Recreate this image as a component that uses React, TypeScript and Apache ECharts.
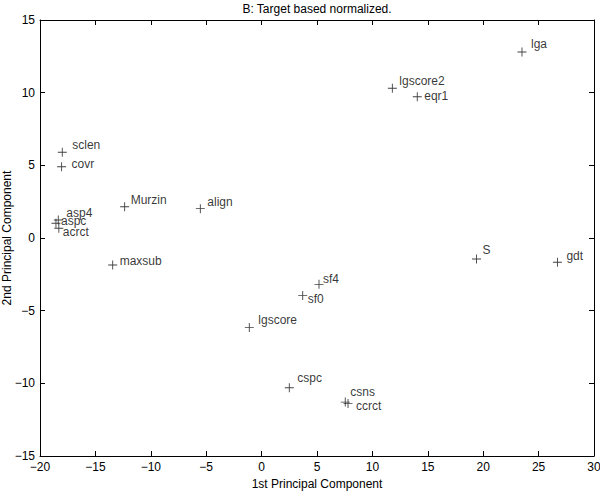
import React, { useEffect, useRef } from "react";
import * as echarts from "echarts";

const names = ["lga", "lgscore2", "eqr1", "sclen", "covr", "Murzin", "align", "asp4", "aspc", "acrct", "maxsub", "S", "gdt", "sf4", "sf0", "lgscore", "cspc", "csns", "ccrct"];
const pc1 = [23.5, 11.8, 14.05, -17.99, -18.05, -12.36, -5.53, -18.35, -18.56, -18.3, -13.44, 19.4, 26.7, 5.18, 3.71, -1.11, 2.5, 7.55, 7.8];
const pc2 = [12.8, 10.3, 9.72, 5.9, 4.9, 2.15, 2.02, 1.24, 1.01, 0.67, -1.86, -1.45, -1.67, -3.19, -3.95, -6.15, -10.3, -11.29, -11.38];

// label anchor offsets (px) relative to the marker centre
const labelDX = [9, 7, 7, 10, 10, 6, 7, 8, 5, 4, 7, 6, 9, 4, 5, 9, 8, 5, 8];
const labelDY = [-8, -7, -1, -7, -3, -7, -7, -7, -2, 4, -4, -9, -6, -5, 4, -7, -10, -10, 3];

const xTicksMin = -20, xTicksMax = 30, yTicksMin = -15, yTicksMax = 15;

const FONT = "Liberation Sans, Arial, Helvetica, sans-serif";
const PLUS = "path://M4.5,0h1v4.5h4.5v1h-4.5v4.5h-1v-4.5h-4.5v-1h4.5z";
const SYM = 9;
const FS = 12;

const fmt = (v: number) => String(v).replace("-", "\u2212");

export default function App() {
  const ref = useRef<HTMLDivElement>(null);
  useEffect(() => {
    if (!ref.current) return;
    const chart = echarts.init(ref.current, null, { renderer: "svg" });
    const axisCommon = {
      axisLine: { show: true, onZero: false, lineStyle: { color: "#000", width: 1 } },
      axisTick: { show: true, inside: true, length: 5, lineStyle: { color: "#000" } },
      splitLine: { show: false },
    };
    const data = names.map((n, i) => ({
      name: n,
      value: [pc1[i], pc2[i]],
      label: {
        position: [labelDX[i] + SYM / 2, labelDY[i] + SYM / 2],
      },
    }));
    chart.setOption({
      animation: false,
      backgroundColor: "#fff",
      textStyle: { fontFamily: FONT },
      title: {
        text: "B: Target based normalized.",
        left: 317,
        textAlign: "center",
        top: 3,
        padding: 0,
        textStyle: { fontSize: FS, fontWeight: "normal", color: "#000", fontFamily: FONT },
      },
      grid: { left: 40, right: 6, top: 20, bottom: 35, containLabel: false, outerBoundsMode: "none" },
      xAxis: [
        {
          type: "value", min: xTicksMin, max: xTicksMax, interval: 5, position: "bottom",
          ...axisCommon,
          axisLabel: { color: "#000", fontSize: FS, margin: 5, fontFamily: FONT, formatter: fmt },
          name: "1st Principal Component", nameLocation: "middle", nameGap: 22, nameMoveOverlap: false,
          nameTextStyle: { color: "#000", fontSize: FS, fontFamily: FONT },
        },
        {
          type: "value", min: xTicksMin, max: xTicksMax, interval: 5, position: "top",
          ...axisCommon, axisLabel: { show: false },
        },
      ],
      yAxis: [
        {
          type: "value", min: yTicksMin, max: yTicksMax, interval: 5, position: "left",
          ...axisCommon,
          axisLabel: { color: "#000", fontSize: FS, margin: 5, fontFamily: FONT, formatter: fmt },
          name: "2nd Principal Component", nameLocation: "middle", nameGap: 27, nameRotate: 90,
          nameMoveOverlap: false,
          nameTextStyle: { color: "#000", fontSize: FS, fontFamily: FONT },
        },
        {
          type: "value", min: yTicksMin, max: yTicksMax, interval: 5, position: "right",
          ...axisCommon, axisLabel: { show: false },
        },
      ],
      series: [
        {
          type: "scatter",
          xAxisIndex: 0,
          yAxisIndex: 0,
          symbol: PLUS,
          symbolSize: SYM,
          itemStyle: { color: "#111" },
          label: {
            show: true,
            formatter: "{b}",
            align: "left",
            verticalAlign: "middle",
            color: "#000",
            fontSize: FS,
            fontFamily: FONT,
          },
          emphasis: { disabled: true },
          data,
        },
      ],
    });
    return () => chart.dispose();
  }, []);
  return (
    <div
      ref={ref}
      style={{ position: "fixed", left: 0, top: 0, width: 600, height: 491, background: "#fff" }}
    />
  );
}
